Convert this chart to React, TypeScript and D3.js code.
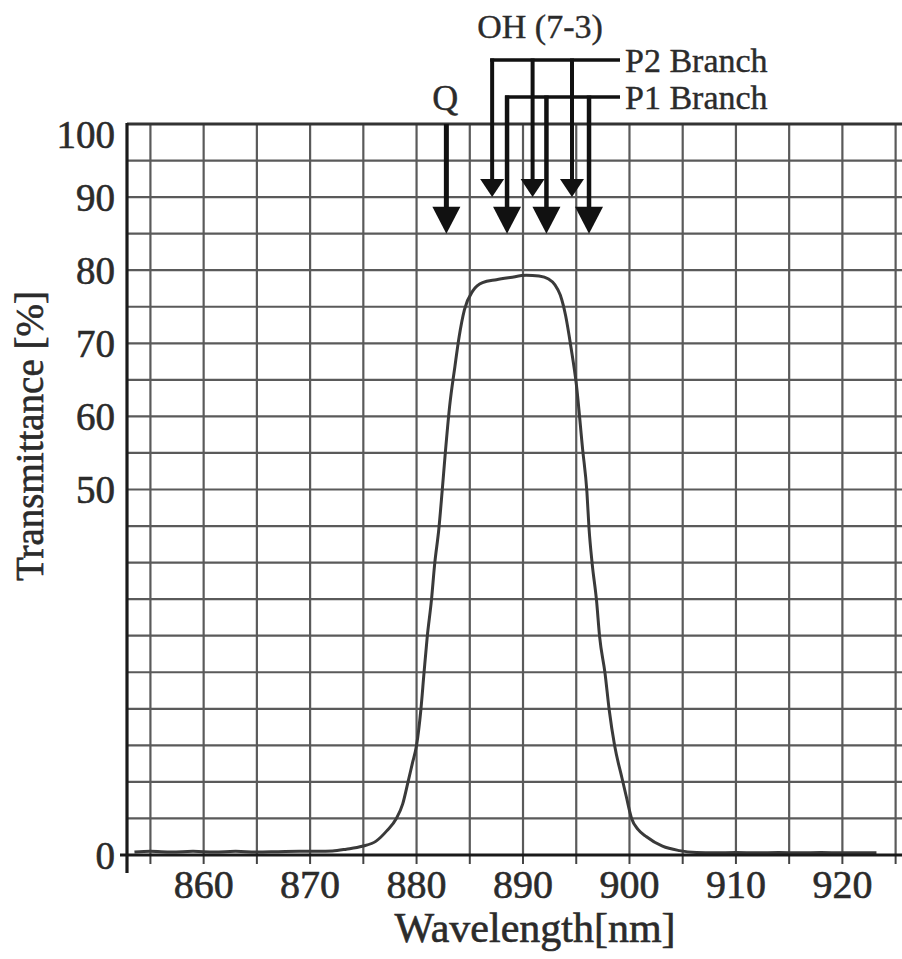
import React from "react";
import * as d3 from "d3";

// ---- data ----
const wavelength = [
  853.5, 855, 857, 859, 861, 863, 865, 867, 869, 870.8, 872.1, 873.4, 874.9, 876.2, 877.2, 878.1,
  878.7, 879.2, 879.6, 880.0, 880.4, 880.7, 881.0, 881.4, 881.7, 882.1, 882.4, 882.7, 883.1,
  883.6, 884.0, 884.5, 885.3, 886.2, 887.5, 888.8, 890.3, 891.5, 892.4, 893.0, 893.5, 894.0,
  894.5, 895.0, 895.6, 896.0, 896.2, 896.5, 896.9, 897.2, 897.7, 898.1, 898.6, 899.3, 899.7,
  900.2, 900.8, 901.6, 903.1, 904.7, 906.3, 908, 910, 912, 914, 916, 918, 920, 922, 923.2,
];
const transmittance = [
  0.4, 0.5, 0.4, 0.5, 0.4, 0.5, 0.4, 0.45, 0.5, 0.5, 0.55, 0.8, 1.2, 1.9, 3.3, 5.0,
  7.0, 10.0, 12.5, 15.0, 19.8, 24.9, 29.8, 34.9, 39.8, 44.7, 49.7, 55.0, 61.3,
  66.8, 70.9, 74.6, 77.2, 78.3, 78.7, 79.0, 79.3, 79.2, 78.8, 78.0, 76.6, 73.8,
  69.5, 64.5, 55.5, 49.7, 44.7, 39.8, 34.9, 29.8, 24.9, 19.8, 15.0, 10.5, 8.0,
  5.0, 3.5, 2.5, 1.2, 0.6, 0.35, 0.3, 0.35, 0.3, 0.35, 0.3, 0.35, 0.3, 0.3, 0.3,
];

const xTickLabels = [860, 870, 880, 890, 900, 910, 920];
const yTickLabels = [0, 50, 60, 70, 80, 90, 100];
const xGrid = [855, 860, 865, 870, 875, 880, 885, 890, 895, 900, 905, 910, 915, 920, 925];
const yGrid = [5, 10, 15, 20, 25, 30, 35, 40, 45, 50, 55, 60, 65, 70, 75, 80, 85, 90, 95];

const qArrowsNm = [882.8];
const p2ArrowsNm = [887.1, 890.9, 894.6];
const p1ArrowsNm = [888.5, 892.2, 896.2];
const p2TipLevel = 90;
const p1TipLevel = 85;
const qTipLevel = 85;
const ohLabelNm = 891.6;

const xTitle = "Wavelength[nm]";
const yTitle = "Transmittance [%]";

export default function App() {
  const W = 902;
  const H = 959;
  const x = d3.scaleLinear().domain([852.8, 925.6]).range([127, 902]);
  const y = d3.scaleLinear().domain([0, 100]).range([855, 124]);

  const pts: [number, number][] = wavelength.map((w, i) => [w, transmittance[i]]);
  const line = d3
    .line<[number, number]>()
    .x((d) => x(d[0]))
    .y((d) => y(d[1]))
    .curve(d3.curveMonotoneX);

  const font = "'Liberation Serif', 'Times New Roman', serif";
  const txt = "#2b2b2b";
  const arrowCol = "#111";

  const p2BarY = 60;
  const p1BarY = 97;
  const labelX = 625;
  const barEnd = 620;

  const arrow = (xc: number, top: number, tip: number, hw: number, hh: number, sw: number, key: string) => (
    <g key={key}>
      <line x1={xc} x2={xc} y1={top} y2={tip - hh + 2} stroke={arrowCol} strokeWidth={sw} />
      <polygon
        points={`${xc - hw},${tip - hh} ${xc + hw},${tip - hh} ${xc},${tip}`}
        fill={arrowCol}
      />
    </g>
  );

  return (
    <svg
      width={W}
      height={H}
      style={{ position: "absolute", left: 0, top: 0, background: "#fff" }}
      fontFamily={font}
    >
      <rect width={W} height={H} fill="#fff" />
      {/* grid */}
      {xGrid.map((g) => (
        <line key={"vx" + g} x1={x(g)} x2={x(g)} y1={y(100)} y2={y(0)} stroke="#5a5a5a" strokeWidth={2.2} />
      ))}
      {yGrid.map((g) => (
        <line key={"hy" + g} x1={x.range()[0]} x2={W} y1={y(g)} y2={y(g)} stroke="#5a5a5a" strokeWidth={2.2} />
      ))}
      {/* x ticks below axis */}
      {xGrid.map((g) => (
        <line key={"tx" + g} x1={x(g)} x2={x(g)} y1={y(0)} y2={y(0) + 9} stroke="#444" strokeWidth={2} />
      ))}
      {/* top border */}
      <line x1={x.range()[0]} x2={W} y1={y(100)} y2={y(100)} stroke="#333" strokeWidth={3} />
      {/* curve */}
      <path d={line(pts) || ""} fill="none" stroke="#3a3a3a" strokeWidth={3} />
      {/* axes */}
      <line x1={120} x2={W} y1={y(0)} y2={y(0)} stroke="#1a1a1a" strokeWidth={3} />
      <line x1={x.range()[0]} x2={x.range()[0]} y1={y(100) - 1} y2={y(0) + 18} stroke="#1a1a1a" strokeWidth={3.2} />

      {/* x tick labels */}
      {xTickLabels.map((t) => (
        <text key={"xl" + t} x={x(t)} y={898} textAnchor="middle" fontSize={40} fill={txt} stroke={txt} strokeWidth={0.6}>
          {t}
        </text>
      ))}
      {/* y tick labels */}
      {yTickLabels.map((t) => (
        <text
          key={"yl" + t}
          x={115}
          y={y(t) + (t === 100 ? 10 : 0)}
          dy="0.35em"
          textAnchor="end"
          fontSize={39}
          fill={txt}
          stroke={txt}
          strokeWidth={0.6}
        >
          {t}
        </text>
      ))}
      {/* axis titles */}
      <text x={535} y={942} textAnchor="middle" fontSize={42} fill={txt} stroke={txt} strokeWidth={0.6}>
        {xTitle}
      </text>
      <text
        transform="translate(43,436) rotate(-90)"
        textAnchor="middle"
        fontSize={39}
        fill={txt}
        stroke={txt}
        strokeWidth={0.6}
      >
        {yTitle}
      </text>

      {/* annotations */}
      <text x={x(ohLabelNm)} y={38} textAnchor="middle" fontSize={34} fill={txt} stroke={txt} strokeWidth={0.4}>
        OH (7-3)
      </text>
      <text x={x(qArrowsNm[0]) - 1} y={110} textAnchor="middle" fontSize={36} fill={txt} stroke={txt} strokeWidth={0.4}>
        Q
      </text>
      <text x={labelX} y={p2BarY} dy="0.35em" fontSize={34} fill={txt} stroke={txt} strokeWidth={0.4}>
        P2 Branch
      </text>
      <text x={labelX} y={p1BarY} dy="0.35em" fontSize={34} fill={txt} stroke={txt} strokeWidth={0.4}>
        P1 Branch
      </text>

      {/* P2 connector + arrows */}
      <line x1={x(p2ArrowsNm[0]) - 2} x2={barEnd} y1={p2BarY} y2={p2BarY} stroke={arrowCol} strokeWidth={3.5} />
      {p2ArrowsNm.map((w, i) => arrow(x(w), p2BarY - 1.5, y(p2TipLevel), 12, 18, 4, "p2" + i))}
      {/* P1 connector + arrows */}
      <line x1={x(p1ArrowsNm[0]) - 2} x2={barEnd} y1={p1BarY} y2={p1BarY} stroke={arrowCol} strokeWidth={3.5} />
      {p1ArrowsNm.map((w, i) => arrow(x(w), p1BarY - 1.5, y(p1TipLevel), 14, 27, 4.5, "p1" + i))}
      {/* Q arrow */}
      {qArrowsNm.map((w, i) => arrow(x(w), y(100), y(qTipLevel), 14, 27, 5, "q" + i))}
    </svg>
  );
}
